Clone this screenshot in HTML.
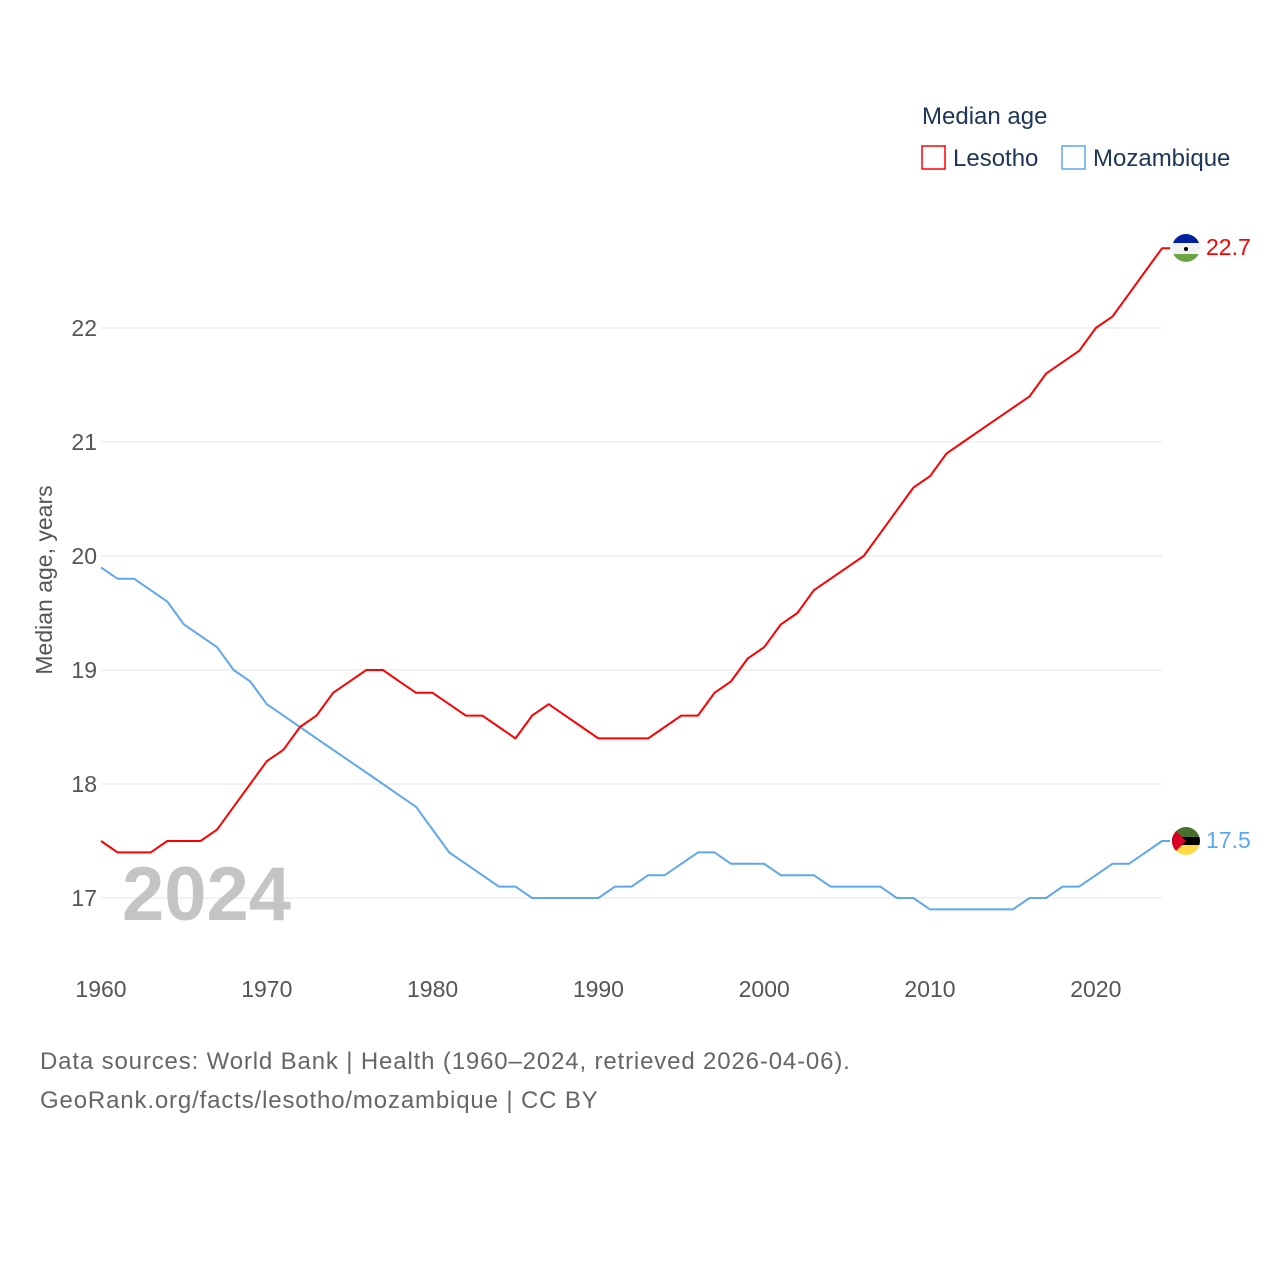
<!DOCTYPE html>
<html><head><meta charset="utf-8"><style>
body{margin:0;background:#fff;font-family:"Liberation Sans",sans-serif}
svg text{font-family:"Liberation Sans",sans-serif}
</style></head><body>
<svg width="1280" height="1280" viewBox="0 0 1280 1280">
<g id="grid"></g>
<g id="ylabels"></g>
<g id="xlabels"></g>
<text x="52" y="580" transform="rotate(-90 52 580)" text-anchor="middle" font-size="23" fill="#555">Median age, years</text>
<text x="122" y="920" font-size="76" font-weight="bold" fill="#c4c4c4">2024</text>
<g id="series"></g>
<g>
<text x="922" y="124" font-size="24" fill="#1d3557">Median age</text>
<g><rect x="922" y="146" width="23" height="23" fill="none" stroke="#ff0000" stroke-width="1.5"/><text x="953" y="166" font-size="24" fill="#1d3557">Lesotho</text></g>
<g><rect x="1062" y="146" width="23" height="23" fill="none" stroke="#5ea8f0" stroke-width="1.5"/><text x="1093" y="166" font-size="24" fill="#1d3557">Mozambique</text></g>
</g>
<g><clipPath id="c1"><circle cx="1186" cy="248" r="14"/></clipPath><g clip-path="url(#c1)"><rect x="1172" y="234" width="28" height="9" fill="#00209f"/><rect x="1172" y="243" width="28" height="11" fill="#f2f2f2"/><rect x="1172" y="254" width="28" height="8" fill="#6da544"/><circle cx="1186" cy="249" r="2" fill="#000"/></g></g>
<g><clipPath id="c2"><circle cx="1186" cy="841" r="14"/></clipPath><g clip-path="url(#c2)"><rect x="1172" y="827" width="28" height="10" fill="#496e2d"/><rect x="1172" y="837" width="28" height="8" fill="#000"/><rect x="1172" y="845" width="28" height="10" fill="#ffda44"/><polygon points="1172,827 1186,841 1172,855" fill="#d80027"/></g></g>
<text x="1206" y="255" font-size="23" fill="#ff0000">22.7</text>
<text x="1206" y="848" font-size="23" fill="#5ea8f0">17.5</text>
<text x="40" y="1069" font-size="24" fill="#666" letter-spacing="0.85">Data sources: World Bank | Health (1960–2024, retrieved 2026-04-06).</text>
<text x="40" y="1108" font-size="24" fill="#666" letter-spacing="0.85">GeoRank.org/facts/lesotho/mozambique | CC BY</text>
</svg>
<script>
const startYear=1960;
const yTicks=[17,18,19,20,21,22];
const xTicks=[1960,1970,1980,1990,2000,2010,2020];
const lesotho=[17.5,17.4,17.4,17.4,17.5,17.5,17.5,17.6,17.8,18.0,18.2,18.3,18.5,18.6,18.8,18.9,19.0,19.0,18.9,18.8,18.8,18.7,18.6,18.6,18.5,18.4,18.6,18.7,18.6,18.5,18.4,18.4,18.4,18.4,18.5,18.6,18.6,18.8,18.9,19.1,19.2,19.4,19.5,19.7,19.8,19.9,20.0,20.2,20.4,20.6,20.7,20.9,21.0,21.1,21.2,21.3,21.4,21.6,21.7,21.8,22.0,22.1,22.3,22.5,22.7];
const mozambique=[19.9,19.8,19.8,19.7,19.6,19.4,19.3,19.2,19.0,18.9,18.7,18.6,18.5,18.4,18.3,18.2,18.1,18.0,17.9,17.8,17.6,17.4,17.3,17.2,17.1,17.1,17.0,17.0,17.0,17.0,17.0,17.1,17.1,17.2,17.2,17.3,17.4,17.4,17.3,17.3,17.3,17.2,17.2,17.2,17.1,17.1,17.1,17.1,17.0,17.0,16.9,16.9,16.9,16.9,16.9,16.9,17.0,17.0,17.1,17.1,17.2,17.3,17.3,17.4,17.5];
const xs=y=>101+(y-1960)*16.58;
const ys=v=>898-(v-17)*114;
const NS="http://www.w3.org/2000/svg";
function mk(tag,attrs,parent){const e=document.createElementNS(NS,tag);for(const k in attrs)e.setAttribute(k,attrs[k]);parent.appendChild(e);return e;}
const grid=document.getElementById('grid'),yl=document.getElementById('ylabels'),xl=document.getElementById('xlabels'),se=document.getElementById('series');
yTicks.forEach(t=>{
 const l=mk('line',{x1:101,x2:1162,y1:ys(t),y2:ys(t),stroke:'#e6e6e6','stroke-width':1},grid);
 
 
 const tx=mk('text',{x:97,y:ys(t)+8,'text-anchor':'end','font-size':23,fill:'#555'},yl);
 tx.textContent=t;
 
 
});
xTicks.forEach(t=>{
 const tx=mk('text',{x:xs(t),y:997,'text-anchor':'middle','font-size':23,fill:'#555'},xl);
 tx.textContent=t;
 
 
});
function line(arr,color,name){
 const d=arr.map((v,i)=>(i?'L':'M')+xs(startYear+i).toFixed(1)+' '+ys(v).toFixed(1)).join(' ')+' L'+(xs(startYear+arr.length-1)+8).toFixed(1)+' '+ys(arr[arr.length-1]).toFixed(1);
 const p=mk('path',{d:d,fill:'none',stroke:color,'stroke-width':2,'stroke-linejoin':'round'},se);
 
 
}
line(mozambique,'#5ea8f0','mozambique-line');
line(lesotho,'#ff0000','lesotho-line');
</script>
</body></html>
